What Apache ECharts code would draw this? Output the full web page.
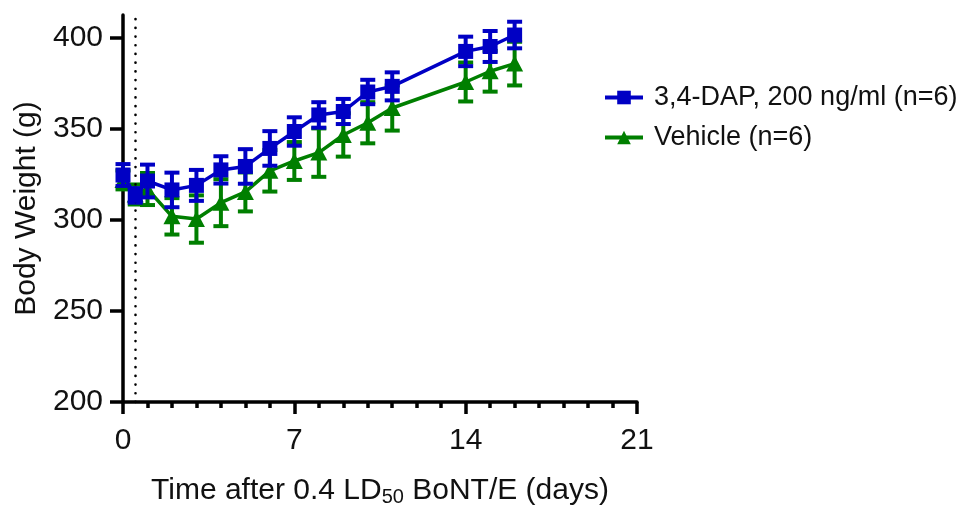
<!DOCTYPE html>
<html>
<head>
<meta charset="utf-8">
<script src="https://cdn.jsdelivr.net/npm/echarts@6/dist/echarts.min.js"></script>
<style>
  html, body { margin: 0; padding: 0; background: #fff; }
  #chart { width: 964px; height: 506px; }
</style>
</head>
<body>
<div id="chart"></div>
<script>
// Body weight after 0.4 LD50 BoNT/E, mean ± SEM per group
const days = [0, 0.5, 1, 2, 3, 4, 5, 6, 7, 8, 9, 10, 11, 14, 15, 16];
const dapMean = [324.7, 313.5, 321.4, 316.5, 319, 327.5, 329.4, 339.3, 348.6, 357.7, 359.6, 370.3, 373.4, 392.6, 395.3, 401.6];
const dapSem  = [6, 4, 9, 9.5, 8.5, 7.5, 9.5, 9.5, 7.8, 7, 6.9, 6.7, 7.7, 8.1, 8.5, 7.3];
const vehMean = [322, 314, 317, 302, 300.5, 309.5, 315.4, 327, 332.4, 337, 346.7, 353.4, 361.5, 375.8, 381.7, 385.9];
const vehSem  = [5.2, 5.5, 8.8, 10, 13, 12.9, 10.7, 11.4, 10.4, 13.3, 11.9, 11.3, 12.4, 10.7, 11.2, 12];

const seriesNames = ['3,4-DAP, 200 ng/ml (n=6)', 'Vehicle (n=6)'];
const yTicks = [200, 250, 300, 350, 400];
const xTicks = [0, 7, 14, 21];
const toxinDay = 0.5;

const BLUE = '#0000C4';
const GREEN = '#007F00';
const FONT = "'Liberation Sans', Arial, sans-serif";

function pairs(xs, ys, es) {
  return xs.map((x, i) => es ? [x, ys[i], es[i]] : [x, ys[i]]);
}

function errorBars(color) {
  return function (params, api) {
    const x = api.value(0), y = api.value(1), e = api.value(2);
    const top = api.coord([x, y + e]);
    const bot = api.coord([x, y - e]);
    const hw = 7.5;
    const style = { stroke: color, lineWidth: 4, fill: null };
    return {
      type: 'group',
      children: [
        { type: 'line', shape: { x1: top[0], y1: top[1], x2: bot[0], y2: bot[1] }, style },
        { type: 'line', shape: { x1: top[0] - hw, y1: top[1], x2: top[0] + hw, y2: top[1] }, style },
        { type: 'line', shape: { x1: bot[0] - hw, y1: bot[1], x2: bot[0] + hw, y2: bot[1] }, style }
      ]
    };
  };
}

const chart = echarts.init(document.getElementById('chart'), null, { renderer: 'canvas' });

chart.setOption({
  animation: false,
  backgroundColor: '#fff',
  textStyle: { fontFamily: FONT, color: '#111' },
  grid: { left: 123, right: 327, top: 15, bottom: 104, containLabel: false, outerBoundsMode: 'none' },
  legend: {
    orient: 'vertical',
    left: 598,
    top: 79,
    itemWidth: 38,
    itemHeight: 17,
    itemGap: 13,
    data: seriesNames,
    lineStyle: { width: 4 },
    textStyle: { fontFamily: FONT, fontSize: 27, color: '#111', padding: [0, 0, 0, 6] }
  },
  xAxis: {
    type: 'value',
    min: 0,
    max: 21,
    interval: 7,
    splitLine: { show: false },
    axisLine: { onZero: false, lineStyle: { color: '#000', width: 3.5 } },
    axisTick: { length: 12, lineStyle: { color: '#000', width: 3.5 }, customValues: xTicks },
    minorTick: { show: true, splitNumber: 7, length: 6, lineStyle: { color: '#000', width: 3.5 } },
    axisLabel: { fontFamily: FONT, fontSize: 30, color: '#111', margin: 24, customValues: xTicks },
    name: 'Time after 0.4 LD{s|50} BoNT/E (days)',
    nameLocation: 'middle',
    nameGap: 73,
    nameTextStyle: {
      fontFamily: FONT, fontSize: 30, color: '#111',
      rich: { s: { fontFamily: FONT, fontSize: 20, color: '#111', padding: [12, 0, 0, 0] } }
    }
  },
  yAxis: {
    type: 'value',
    min: 200,
    max: 412.6,
    splitLine: { show: false },
    axisLine: { onZero: false, lineStyle: { color: '#000', width: 3.5 } },
    axisTick: { length: 13, lineStyle: { color: '#000', width: 3.5 }, customValues: yTicks },
    axisLabel: { fontFamily: FONT, fontSize: 30, color: '#111', margin: 20, customValues: yTicks },
    name: 'Body Weight (g)',
    nameLocation: 'middle',
    nameGap: 79,
    nameTextStyle: { fontFamily: FONT, fontSize: 30, color: '#111' }
  },
  series: [
    {
      type: 'custom',
      name: seriesNames[1] + ' SEM',
      renderItem: errorBars(GREEN),
      data: pairs(days, vehMean, vehSem),
      encode: { x: 0, y: [1, 2] },
      clip: false,
      z: 2
    },
    {
      type: 'line',
      name: seriesNames[1],
      data: pairs(days, vehMean),
      symbol: 'triangle',
      symbolSize: [17, 16],
      showAllSymbol: true,
      clip: false,
      itemStyle: { color: GREEN },
      lineStyle: { color: GREEN, width: 3.5 },
      z: 3,
      markLine: {
        silent: true,
        symbol: 'none',
        label: { show: false },
        lineStyle: { color: '#000', width: 2.6, type: [0.1, 8.6], cap: 'round' },
        data: [{ xAxis: toxinDay }]
      }
    },
    {
      type: 'custom',
      name: seriesNames[0] + ' SEM',
      renderItem: errorBars(BLUE),
      data: pairs(days, dapMean, dapSem),
      encode: { x: 0, y: [1, 2] },
      clip: false,
      z: 4
    },
    {
      type: 'line',
      name: seriesNames[0],
      data: pairs(days, dapMean),
      symbol: 'rect',
      symbolSize: 15,
      showAllSymbol: true,
      clip: false,
      itemStyle: { color: BLUE },
      lineStyle: { color: BLUE, width: 3.5 },
      z: 5
    }
  ]
});
</script>
</body>
</html>
